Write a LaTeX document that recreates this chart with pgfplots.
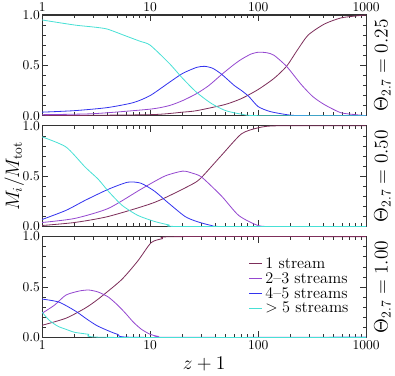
\documentclass[border=0pt]{standalone}
\usepackage{pgfplots}
\pgfplotsset{compat=1.18}
\usepgfplotslibrary{groupplots}
\definecolor{c1}{HTML}{7D2E5A}
\definecolor{c23}{HTML}{9548D0}
\definecolor{c45}{HTML}{3333EE}
\definecolor{c5p}{HTML}{48E0D5}
\begin{document}
\begin{tikzpicture}
\begin{groupplot}[
    group style={group size=1 by 3, vertical sep=7.5pt},
    scale only axis, width=240pt, height=74.6pt,
    xmode=log, xmin=1, xmax=1000, ymin=0, ymax=1,
    xtick={1,10,100,1000}, xticklabels={1,10,100,1000},
    ytick={0,0.5,1}, yticklabels={0.0,0.5,1.0},
    minor ytick={0.1,0.2,0.3,0.4,0.6,0.7,0.8,0.9},
    major tick length=4.5pt, minor tick length=2.5pt,
    axis line style={line width=0.8pt, black!80},
    tick style={line width=0.5pt, black!80},
    every axis plot/.append style={line width=0.6pt, smooth, tension=0.4},
    tick label style={font=\normalsize},
    xticklabel style={inner sep=2pt},
    yticklabel style={inner sep=1.5pt},
]
% Theta = 0.25
\nextgroupplot[xticklabel pos=upper,
    extra description/.code={\node[rotate=90, font=\Large] at (rel axis cs:1.05,0.5) {$\Theta_{2.7}=0.25$};}]
\addplot[c1] coordinates {(1,0.0)(10,0.01)(20,0.035)(27,0.05)(49,0.11)(70,0.17)(100,0.26)(140,0.37)(183,0.49)(230,0.65)(290,0.80)(410,0.91)(580,0.97)(800,0.99)(1000,1.0)};
\addplot[c23] coordinates {(1,0.01)(3,0.02)(10,0.065)(15,0.10)(20,0.15)(27,0.22)(35,0.30)(46,0.41)(60,0.51)(70,0.56)(85,0.61)(100,0.63)(120,0.625)(140,0.60)(183,0.49)(250,0.31)(320,0.19)(410,0.11)(580,0.03)(800,0.01)(1000,0.0)};
\addplot[c45] coordinates {(1,0.035)(2,0.05)(4,0.08)(7,0.13)(10,0.20)(15,0.33)(20,0.42)(27,0.48)(32,0.49)(38,0.47)(46,0.41)(60,0.30)(70,0.25)(82,0.19)(100,0.09)(130,0.04)(200,0.005)(300,0)(1000,0)};
\addplot[c5p] coordinates {(1,0.95)(2,0.90)(3,0.88)(4,0.86)(6,0.79)(8,0.74)(10,0.70)(15,0.52)(20,0.37)(27,0.23)(37,0.12)(50,0.05)(70,0.015)(100,0.0)(1000,0)};
% Theta = 0.50
\nextgroupplot[xticklabels={}, ylabel={$M_i/M_{\mathrm{tot}}$}, ylabel style={font=\Large}, ylabel shift=-6pt,
    extra description/.code={\node[rotate=90, font=\Large] at (rel axis cs:1.05,0.5) {$\Theta_{2.7}=0.50$};}]
\addplot[c1] coordinates {(1,0.01)(2,0.04)(4.1,0.10)(11,0.24)(24.5,0.42)(30,0.49)(46,0.71)(70,0.92)(100,0.98)(150,1.0)(1000,1.0)};
\addplot[c23] coordinates {(1,0.04)(2,0.08)(4.1,0.18)(8.2,0.37)(13.6,0.50)(20,0.55)(24.5,0.53)(30,0.49)(46,0.30)(66,0.11)(100,0.01)(150,0)(1000,0)};
\addplot[c45] coordinates {(1,0.07)(1.66,0.16)(2.5,0.26)(4.1,0.37)(6.2,0.44)(8.2,0.43)(11,0.35)(14.5,0.24)(21,0.10)(27,0.05)(37,0.01)(50,0)(1000,0)};
\addplot[c5p] coordinates {(1,0.89)(1.66,0.79)(2.5,0.59)(3.3,0.47)(4.1,0.35)(5.5,0.21)(7.7,0.11)(11,0.05)(15,0.015)(19,0)(1000,0)};
% Theta = 1.00
\nextgroupplot[xlabel={$z+1$}, xlabel style={font=\Large},
    legend style={at={(0.967,0.85)}, anchor=north east, draw=none, fill=none, font=\large, row sep=-2.5pt},
    legend cell align=left,
    legend image code/.code={\draw[#1, sharp plot] (0pt,0pt) -- (9.5pt,0pt);},
    extra description/.code={\node[rotate=90, font=\Large] at (rel axis cs:1.05,0.5) {$\Theta_{2.7}=1.00$};}]
\addplot[c1] coordinates {(1,0.12)(1.66,0.19)(2.5,0.29)(3.3,0.38)(5.4,0.57)(7.7,0.76)(10.2,0.94)(13,0.98)(17,1.0)(1000,1.0)};
\addlegendentry{1 stream}
\addplot[c23] coordinates {(1,0.24)(1.3,0.32)(1.66,0.42)(2.2,0.46)(2.7,0.47)(3.3,0.45)(4.1,0.40)(5.0,0.32)(5.9,0.24)(7,0.15)(8.3,0.08)(10,0.03)(11.8,0.01)(15,0)(1000,0)};
\addlegendentry{2--3 streams}
\addplot[c45] coordinates {(1,0.38)(1.43,0.35)(2.04,0.26)(2.6,0.18)(3.3,0.11)(5,0.03)(7.7,0)(1000,0)};
\addlegendentry{4--5 streams}
\addplot[c5p] coordinates {(1,0.25)(1.16,0.17)(1.4,0.11)(1.66,0.08)(2.0,0.05)(2.7,0.03)(4,0.0)(1000,0)};
\addlegendentry{$>5$ streams}
\end{groupplot}
\end{tikzpicture}
\end{document}
